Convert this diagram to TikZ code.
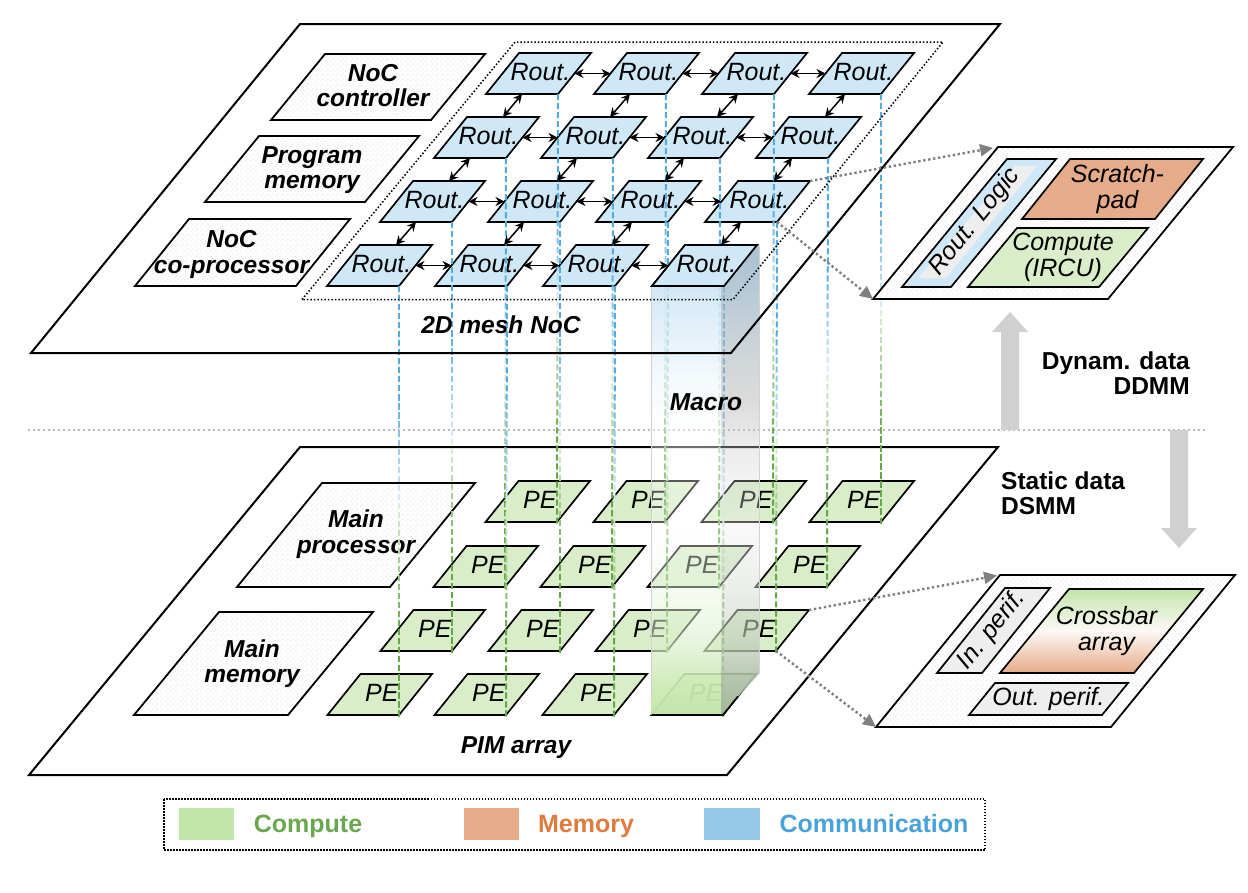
\documentclass[tikz,border=0pt]{standalone}
\usepackage{fontspec}
\setmainfont{Liberation Sans}
\usetikzlibrary{arrows.meta,calc,patterns}
\definecolor{rfill}{HTML}{CFE8F7}
\definecolor{pfill}{HTML}{D9EDC9}
\definecolor{cgreen}{HTML}{C2E6A8}
\definecolor{corange}{HTML}{E6AB88}
\definecolor{cblue}{HTML}{95C9E9}
\definecolor{tgreen}{HTML}{6AA84F}
\definecolor{torange}{HTML}{E07B3F}
\definecolor{tblue}{HTML}{4AA3D8}
\definecolor{lnblue}{HTML}{55ABDC}
\definecolor{lngreen}{HTML}{62A844}
\definecolor{panelgray}{HTML}{EEEEEE}
\definecolor{arrgray}{HTML}{D0D0D0}
\definecolor{dotgray}{HTML}{808080}
\definecolor{s1}{HTML}{9FB9CA}
\definecolor{s2}{HTML}{B4B4B4}
\definecolor{s3}{HTML}{F0F0F0}
\definecolor{s4}{HTML}{A3B899}
\pgfdeclarepatternformonly{sparsedots}{\pgfqpoint{0pt}{0pt}}{\pgfqpoint{5pt}{5pt}}{\pgfqpoint{5pt}{5pt}}{%
  \pgfpathcircle{\pgfqpoint{1pt}{1pt}}{0.7pt}%
  \pgfpathcircle{\pgfqpoint{3.5pt}{3.5pt}}{0.7pt}%
  \pgfusepath{fill}}
% \para{path style}{text style}{name}{xBL}{yB}{xTL}{yT}{width}{text}
\newcommand{\para}[9]{%
  \pgfmathsetmacro{\pXr}{#4+#8}%
  \pgfmathsetmacro{\pXtr}{#6+#8}%
  \pgfmathsetmacro{\pCx}{(#4+#6+#8)/2}%
  \pgfmathsetmacro{\pCy}{(#5+#7)/2}%
  \coordinate (#3-bl) at (#4,#5);
  \coordinate (#3-br) at (\pXr,#5);
  \coordinate (#3-tl) at (#6,#7);
  \coordinate (#3-tr) at (\pXtr,#7);
  \coordinate (#3-l) at ($(#3-bl)!0.5!(#3-tl)$);
  \coordinate (#3-r) at ($(#3-br)!0.5!(#3-tr)$);
  \coordinate (#3-t) at ($(#3-tl)!0.5!(#3-tr)$);
  \coordinate (#3-b) at ($(#3-bl)!0.5!(#3-br)$);
  \path[#1] (#3-bl) -- (#3-br) -- (#3-tr) -- (#3-tl) -- cycle;
  \node[inner sep=0pt,outer sep=0pt,align=center,#2] (#3) at (\pCx,\pCy) {#9};%
}
\newcommand{\fadeline}[2]{%
  \foreach \i in {0,...,47}{%
    \pgfmathsetmacro{\tA}{\i/47.5}%
    \pgfmathsetmacro{\tB}{(\i+0.68)/47.5}%
    \pgfmathtruncatemacro{\pct}{\tA<0.5 ? min(100,20+(0.5-\tA)*320) : min(100,20+(\tA-0.5)*267)}%
    \ifdim\tA pt<0.5pt
      \draw[line width=2pt,color=lnblue!\pct!white] ($(#1-br)!\tA!(#2-br)$) -- ($(#1-br)!\tB!(#2-br)$);
    \else
      \draw[line width=2pt,color=lngreen!\pct!white] ($(#1-br)!\tA!(#2-br)$) -- ($(#1-br)!\tB!(#2-br)$);
    \fi
  }%
}
% opacity of the column at relative height s (0 bottom, 1 top)
\newcommand{\colalpha}[1]{%
  \pgfmathsetmacro{\cT}{#1<0.08 ? 0.03+#1*0.625 : (#1<0.2 ? 0.08+(#1-0.08)*3.08 : (#1<0.5 ? 0.45+(#1-0.2)*0.833 : (#1<0.75 ? 0.7-(#1-0.5) : 0.45-(#1-0.75)*1.32)))}%
  \pgfmathsetmacro{\cA}{1-\cT}%
}
\tikzset{
  txt/.style={font=\fontsize{25}{25.5}\selectfont\itshape},
  btxt/.style={font=\fontsize{24.5}{25.5}\selectfont\bfseries\itshape},
  hd/.style={font=\fontsize{24.5}{25}\selectfont\bfseries},
  plane/.style={draw=black,line width=2pt},
  panel/.style={draw=black,line width=1.8pt,pattern=sparsedots,pattern color=gray!35,preaction={fill=white}},
  rout/.style={draw=black,line width=1.7pt,fill=rfill},
  pe/.style={draw=black,line width=1.7pt,fill=pfill},
  inner/.style={draw=black,line width=1.7pt},
  link/.style={{Stealth[length=9pt,width=9pt]}-{Stealth[length=9pt,width=9pt]},line width=1.5pt,black},
  zoomline/.style={dotgray,line width=2.4pt,dash pattern=on 2.4pt off 2.6pt,-{Triangle[length=13pt,width=12pt]}},
  bigarrow/.style={fill=arrgray,draw=none},
  legendbox/.style={draw=none,minimum height=32pt,inner sep=0pt},
  legendtxt/.style={font=\fontsize{25}{25}\selectfont\bfseries},
  inlabel/.style={txt,xshift=2pt,yshift=1.5pt}
}
\begin{document}
\begin{tikzpicture}[x=1pt,y=-1pt]
\useasboundingbox[fill=white] (0,0) rectangle (1248,892);

% separator
\draw[gray!55,line width=2pt,dash pattern=on 2pt off 3pt] (28,430) -- (1207,430);

% lower plane
\para{plane}{}{lowplane}{29}{775}{300}{447}{698}{}
\para{panel}{btxt,yshift=1pt}{mainproc}{237}{587}{322}{483}{153}{Main\\processor}
\para{panel}{btxt,xshift=-1.5pt}{mainmem}{134}{715}{219}{612}{154}{Main\\memory}
\foreach \n/\brx/\yb in {
 p11/557/522,p12/665/522,p13/773/522,p14/881/522,
 p21/505/587,p22/612/587,p23/719/587,p24/827/587,
 p31/452/651,p32/560/651,p33/667/651,p34/776/651,
 p41/399/715,p42/506/715,p43/614/715,p44/723/715}{
  \pgfmathsetmacro{\xbl}{\brx-71.5}\pgfmathsetmacro{\xtl}{\xbl+33}\pgfmathsetmacro{\yt}{\yb-41}
  \para{pe}{inlabel}{\n}{\xbl}{\yb}{\xtl}{\yt}{71.5}{PE}
}

% routers
\foreach \n/\brx/\yb in {
 r11/558/94,r12/666/94,r13/774/94,r14/881/94,
 r21/506/158,r22/613/158,r23/720/158,r24/828/158,
 r31/452/222,r32/560/222,r33/668/222,r34/777/222,
 r41/399/286,r42/507/286,r43/615/286,r44/724/286}{
  \pgfmathsetmacro{\xbl}{\brx-72}\pgfmathsetmacro{\xtl}{\xbl+33}\pgfmathsetmacro{\yt}{\yb-41}
  \para{rout}{inlabel}{\n}{\xbl}{\yb}{\xtl}{\yt}{72}{Rout.}
}

% vertical dashed links
\foreach \r in {1,2,3,4}{\foreach \c in {1,2,3,4}{\fadeline{r\r\c}{p\r\c}}}

% macro column: front face
\foreach \yy in {0,3,...,426}{
  \pgfmathsetmacro{\ytop}{286+\yy}
  \pgfmathsetmacro{\ybot}{\ytop+3}
  \pgfmathsetmacro{\ss}{(715-\ytop-1.5)/429}
  \colalpha{\ss}
  \ifdim\ss pt<0.45pt
    \pgfmathtruncatemacro{\pp}{\ss<0.3 ? 100-233*\ss : 30-(\ss-0.3)*200}
    \colorlet{stripc}{cgreen!\pp!white}
  \else
    \pgfmathtruncatemacro{\pp}{\ss<0.65 ? 0 : (\ss-0.65)/0.35*50}
    \colorlet{stripc}{cblue!\pp!white}
  \fi
  \fill[stripc,fill opacity=\cA] (651,\ytop) rectangle (721,\ybot);
}
% macro column: side face
\begin{scope}
\clip (721,286) -- (757,245) -- (759,245) -- (759,674) -- (721,715) -- cycle;
\foreach \yy in {0,3,...,468}{
  \pgfmathsetmacro{\ytop}{245+\yy}
  \pgfmathsetmacro{\ybot}{\ytop+3}
  \pgfmathsetmacro{\ss}{(715-\ytop-1.5)/470}
  \colalpha{\ss}
  \ifdim\ss pt<0.4pt
    \pgfmathtruncatemacro{\pp}{\ss/0.4*100}
    \colorlet{stripc}{s3!\pp!s4}
  \else\ifdim\ss pt<0.67pt
    \pgfmathtruncatemacro{\pp}{(\ss-0.4)/0.27*100}
    \colorlet{stripc}{s2!\pp!s3}
  \else
    \pgfmathtruncatemacro{\pp}{min(100,(\ss-0.67)/0.23*100)}
    \colorlet{stripc}{s1!\pp!s2}
  \fi\fi
  \fill[stripc,fill opacity=\cA] (721,\ytop) rectangle (759,\ybot);
}
\end{scope}
\draw[gray!35,line width=0.8pt] (651,286) -- (651,700) (759,245) -- (759,674);
\draw[black,line width=1.7pt] (p44-bl) -- (p44-br) -- ($(p44-br)!0.45!(p44-tr)$);

% upper plane (outlines lie over the column)
\para{plane}{}{upplane}{31}{353}{300}{24}{700}{}
\draw[black,line width=1.5pt,dash pattern=on 1.5pt off 2pt] (302,299.5) -- (515,42) -- (943,42) -- (733,299.5) -- cycle;
\para{panel}{btxt,xshift=-5pt,yshift=1.5pt}{noccontrol}{271}{120}{325}{54}{160}{NoC\\controller}
\para{panel}{btxt,yshift=-1pt}{progmem}{205}{202}{259}{136}{160}{Program\\memory}
\para{panel}{btxt,xshift=-11pt,yshift=-2pt}{noccop}{135}{286}{189}{219}{161}{NoC\\co-processor}

% redraw the router that stands on the column
\para{rout}{inlabel}{r44}{652}{286}{685}{245}{72}{Rout.}

% router mesh links
\foreach \r in {1,2,3,4}{
  \draw[link] (r\r1-r) -- (r\r2-l);
  \draw[link] (r\r2-r) -- (r\r3-l);
  \draw[link] (r\r3-r) -- (r\r4-l);
}
\foreach \c in {1,2,3,4}{
  \draw[link] (r1\c-b) -- (r2\c-t);
  \draw[link] (r2\c-b) -- (r3\c-t);
  \draw[link] (r3\c-b) -- (r4\c-t);
}

% plane labels
\node[btxt] (meshlabel) at (501,325) {2D mesh NoC};
\node[btxt] (pimlabel) at (516,748) {PIM array};
\node[btxt] (macrolabel) at (706,402) {Macro};

% zoom panels
\para{panel}{}{dyn}{873}{299}{998}{147}{235}{}
\para{inner,fill=rfill}{}{routlogic}{902}{287}{1007}{159}{49}{}
\fill[panelgray] (918,278) -- (946,278) -- (1037,166) -- (1015,166) -- cycle;
\node[txt,rotate=51] (routlogictxt) at (975,222) {Rout.\hspace{10pt}Logic};
\para{inner,fill=corange}{txt,xshift=5pt}{scratch}{1022}{219}{1070}{159}{133}{Scratch-\\pad}
\para{inner,fill=pfill}{txt,xshift=5pt}{irc}{968}{287}{1017}{228}{131}{Compute\\(IRCU)}

\para{panel}{}{stat}{876}{727}{1000}{575}{235}{}
\para{inner,fill=panelgray}{}{inperif}{937}{673}{1005}{588}{45}{}
\node[txt,rotate=51] (inperiftxt) at (992,630) {In. perif.};
\para{inner,top color=cgreen,bottom color=corange,middle color=white!92!corange}{txt,xshift=5pt}{xbar}{1000}{673}{1069}{589}{134}{Crossbar\\array}
\para{inner,fill=panelgray}{txt}{outperif}{969}{715}{995}{683}{133}{Out. perif.}

\draw[zoomline,shorten >=5pt] (r34-tr) -- (dyn-tl);
\draw[zoomline] (r34-br) -- (dyn-bl);
\draw[zoomline,shorten >=3pt] (p34-tr) -- (stat-tl);
\draw[zoomline] (p34-br) -- (stat-bl);

% big arrows
\fill[bigarrow] (1001,430) -- (1001,332) -- (992,332) -- (1010,312) -- (1028,332) -- (1019,332) -- (1019,430) -- cycle;
\fill[bigarrow] (1170,430) -- (1170,528) -- (1161,528) -- (1179,548) -- (1197,528) -- (1188,528) -- (1188,430) -- cycle;
\node[hd,align=right,anchor=east,inner sep=0pt] (dyntxt) at (1190,373) {Dynam. data\\DDMM};
\node[hd,align=left,anchor=west,inner sep=0pt] (stattxt) at (1001,493) {Static data\\DSMM};

% legend
\draw[black,line width=1.5pt,dash pattern=on 1.5pt off 1.5pt] (164,799) rectangle (985,850);
\node[legendbox,fill=cgreen,minimum width=55pt] (lgc) at (206,824) {};
\node[legendbox,fill=corange,minimum width=55pt] (lgm) at (491.5,824) {};
\node[legendbox,fill=cblue,minimum width=56pt] (lgb) at (732,824) {};
\node[legendtxt,text=tgreen,anchor=base] (lgct) at (308,832) {Compute};
\node[legendtxt,text=torange,anchor=base] (lgmt) at (586,832) {Memory};
\node[legendtxt,text=tblue,anchor=base] (lgbt) at (874,832) {Communication};
\end{tikzpicture}
\end{document}
